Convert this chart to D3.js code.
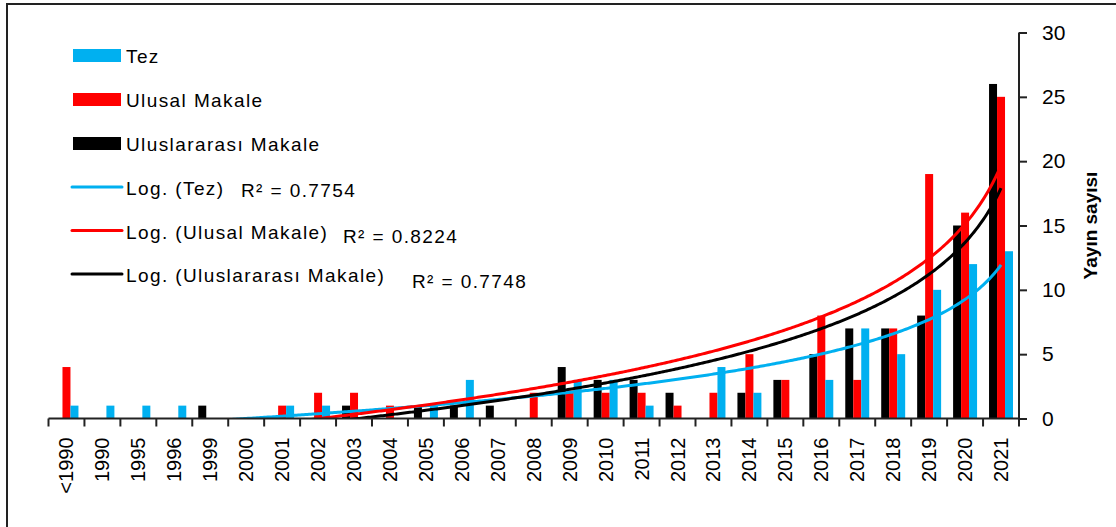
<!DOCTYPE html>
<html>
<head>
<meta charset="utf-8">
<script src="https://cdn.jsdelivr.net/npm/d3@7"></script>
<style>
  body { margin: 0; background: #fff; }
  text { font-family: "Liberation Sans", Arial, sans-serif; }
</style>
</head>
<body>
<script>
// categories and series
var categories = ["<1990", "1990", "1995", "1996", "1999", "2000", "2001", "2002", "2003", "2004",
  "2005", "2006", "2007", "2008", "2009", "2010", "2011", "2012", "2013", "2014",
  "2015", "2016", "2017", "2018", "2019", "2020", "2021"];
var tez = [1, 1, 1, 1, 0, 0, 1, 1, 0, 0, 1, 3, 0, 0, 3, 3, 1, 0, 4, 2, 0, 3, 7, 5, 10, 12, 13];
var ulusal = [4, 0, 0, 0, 0, 0, 1, 2, 2, 1, 0, 0, 0, 2, 2, 2, 2, 1, 2, 5, 3, 8, 3, 7, 19, 16, 25];
var uluslararasi = [0, 0, 0, 0, 1, 0, 0, 0, 1, 0, 1, 1, 1, 0, 4, 3, 3, 2, 0, 2, 3, 5, 7, 7, 8, 15, 26];
var yTicks = [0, 5, 10, 15, 20, 25, 30];
var r2Labels = ["R² = 0.7754", "R² = 0.8224", "R² = 0.7748"];

var series = [
  { key: "Uluslararası Makale", values: uluslararasi, color: "#000000" },
  { key: "Ulusal Makale", values: ulusal, color: "#ff0000" },
  { key: "Tez", values: tez, color: "#00b0f0" }
];

var svgWidth = 1116, svgHeight = 527;
var plotLeft = 48.5, plotRight = 1019, plotTop = 32.5, plotBottom = 418.5;

var svg = d3.select("body").append("svg")
    .attr("width", svgWidth)
    .attr("height", svgHeight);

// outer frame (only top and left edge show in the picture)
svg.append("path")
    .attr("d", "M7,530 L7,4 L1120,4")
    .attr("fill", "none")
    .attr("stroke", "#222")
    .attr("stroke-width", 2);

var x = d3.scaleBand().domain(categories).range([plotLeft, plotRight]).padding(0);
var bw = x.bandwidth();
var xSub = d3.scaleBand().domain(series.map(s => s.key)).range([bw / 6, bw * 5 / 6]);
var y = d3.scaleLinear().domain([0, 30]).range([plotBottom, plotTop]);

// bars
series.forEach(function (s) {
  svg.append("g").selectAll("rect")
      .data(categories.map((c, i) => ({ c: c, v: s.values[i] })).filter(d => d.v > 0))
      .enter()
      .append("rect")
      .attr("x", d => x(d.c) + xSub(s.key))
      .attr("y", d => y(d.v))
      .attr("width", xSub.bandwidth())
      .attr("height", d => y(0) - y(d.v))
      .attr("fill", s.color);
});

// log trendlines, x counted from the right (category axis is reversed)
var n = categories.length;
function logFit(vals) {
  var xs = vals.map((v, i) => Math.log(n - i));
  var mx = d3.mean(xs), my = d3.mean(vals);
  var sxy = d3.sum(xs, (v, i) => (v - mx) * (vals[i] - my));
  var sxx = d3.sum(xs, v => (v - mx) * (v - mx));
  var a = sxy / sxx;
  return { a: a, b: my - a * mx };
}
var xLin = d3.scaleLinear().domain([n, 1])
    .range([x(categories[0]) + bw / 2, x(categories[n - 1]) + bw / 2]);

svg.append("clipPath").attr("id", "plot")
  .append("rect")
    .attr("x", plotLeft).attr("y", plotTop)
    .attr("width", plotRight - plotLeft).attr("height", plotBottom - plotTop);

var trendOrder = [series[2], series[1], series[0]];
trendOrder.forEach(function (s) {
  var f = logFit(s.values);
  var pts = d3.range(1, n + 0.001, 0.05).map(t => [xLin(t), y(f.a * Math.log(t) + f.b)]);
  svg.append("path")
      .attr("clip-path", "url(#plot)")
      .attr("d", d3.line()(pts))
      .attr("fill", "none")
      .attr("stroke", s.color)
      .attr("stroke-width", 3);
});

// x axis
var xAxis = svg.append("g")
    .attr("transform", `translate(0, ${plotBottom})`)
    .call(d3.axisBottom(x).tickSize(0).tickPadding(0));
xAxis.select(".domain").remove();
xAxis.selectAll("text")
    .attr("transform", "rotate(-90)")
    .attr("x", -19)
    .attr("y", 0)
    .attr("dy", "0.35em")
    .style("text-anchor", "end")
    .style("font-size", "20px")
    .style("font-family", "Liberation Sans, Arial, sans-serif")
    .attr("fill", "#000");

svg.append("g").selectAll("line")
    .data(categories.map(c => x(c)).concat([plotRight]))
    .enter()
    .append("line")
    .attr("x1", d => d).attr("x2", d => d)
    .attr("y1", plotBottom).attr("y2", plotBottom + 8)
    .attr("stroke", "#222").attr("stroke-width", 2);
svg.append("line")
    .attr("x1", plotLeft).attr("x2", plotRight)
    .attr("y1", plotBottom).attr("y2", plotBottom)
    .attr("stroke", "#222").attr("stroke-width", 2);

// y axis on the right
var yAxis = svg.append("g")
    .attr("transform", `translate(${plotRight}, 0)`)
    .call(d3.axisRight(y).tickValues(yTicks).tickSize(8).tickPadding(15));
yAxis.select(".domain").attr("stroke", "#222").attr("stroke-width", 2)
    .attr("d", `M0,${plotTop}V${plotBottom}`);
yAxis.selectAll(".tick line").attr("stroke", "#222").attr("stroke-width", 2);
yAxis.selectAll("text")
    .style("font-size", "21px")
    .style("font-family", "Liberation Sans, Arial, sans-serif")
    .attr("fill", "#000");

svg.append("text")
    .attr("transform", `translate(1097, ${(plotTop + plotBottom) / 2}) rotate(-90)`)
    .attr("text-anchor", "middle")
    .style("font-size", "19px")
    .style("font-weight", "bold")
    .text("Yayın sayısı");

// legend
var legendBars = [series[2], series[1], series[0]];
var legend = svg.append("g").style("font-size", "19px").style("letter-spacing", "1.4px");
legendBars.forEach(function (s, i) {
  var cy = 55.5 + i * 44;
  legend.append("rect")
      .attr("x", 73).attr("y", cy - 6.5)
      .attr("width", 48).attr("height", 13)
      .attr("fill", s.color);
  legend.append("text")
      .attr("x", 126).attr("y", cy + 7)
      .text(s.key);
});
var r2x = [241, 343, 412];
legendBars.forEach(function (s, i) {
  var cy = 187 + i * 43.5;
  legend.append("line")
      .attr("x1", 72).attr("x2", 122)
      .attr("y1", cy).attr("y2", cy)
      .attr("stroke", s.color).attr("stroke-width", 3)
      .attr("stroke-linecap", "round");
  legend.append("text")
      .attr("x", 126).attr("y", cy + 8)
      .text("Log. (" + s.key + ")");
  legend.append("text")
      .attr("x", r2x[i]).attr("y", cy + 10 + i * 2)
      .text(r2Labels[i]);
});
</script>
</body>
</html>
